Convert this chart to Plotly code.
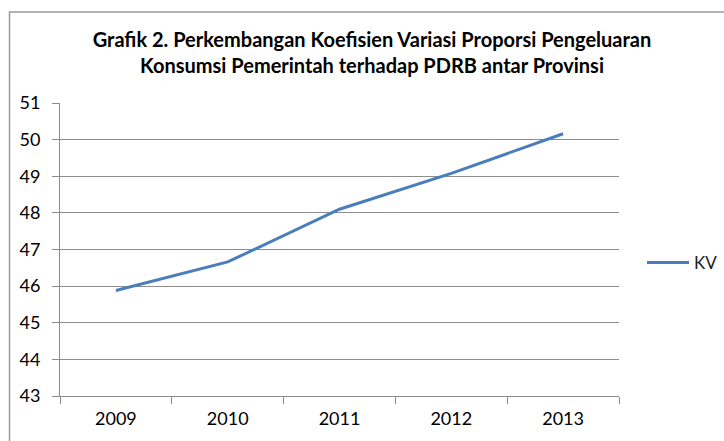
import plotly.graph_objects as go

years = ["2009", "2010", "2011", "2012", "2013"]
kv = [45.88, 46.66, 48.10, 49.08, 50.16]
series_name = "KV"
title_lines = ["Grafik 2. Perkembangan Koefisien Variasi Proporsi Pengeluaran",
               "Konsumsi Pemerintah terhadap PDRB antar Provinsi"]

W, H = 724, 441
L, R, T, B = 60, 105, 103, 45
pw, ph = W - L - R, H - T - B

fig = go.Figure()
fig.add_trace(go.Scatter(
    x=years, y=kv, mode="lines", name=series_name,
    line=dict(color="#4A7EBB", width=3),
))

grid = "#8C8C8C"
fig.update_layout(
    width=W, height=H,
    margin=dict(l=L, r=R, t=T, b=B, autoexpand=False),
    paper_bgcolor="white", plot_bgcolor="white",
    font=dict(family="Lato", size=17, color="#000"),
    title=dict(
        text="<b>" + "<br>".join(title_lines) + "</b>",
        x=372 / W, xanchor="center", xref="container",
        y=1 - 47 / H, yanchor="top",
        font=dict(family="Lato", size=20, color="#000"),
    ),
    showlegend=True,
    legend=dict(
        x=(642 - L) / pw, y=(H - B - 263) / ph, xanchor="left", yanchor="middle",
        bgcolor="rgba(0,0,0,0)", font=dict(size=17, color="#222"),
        itemwidth=42,
    ),
    xaxis=dict(
        type="category", range=[-0.5, 4.5],
        showline=True, linecolor=grid, linewidth=1,
        ticks="outside", tickson="boundaries", ticklen=7, tickcolor=grid,
        showgrid=False, zeroline=False,
        tickfont=dict(size=18, color="#000"),
        ticklabelstandoff=6,
    ),
    yaxis=dict(
        range=[43, 51], dtick=1, tick0=43,
        showline=True, linecolor=grid, linewidth=1,
        ticks="outside", ticklen=7, tickcolor=grid,
        showgrid=True, gridcolor=grid, gridwidth=1, zeroline=False,
        tickfont=dict(size=18, color="#000"),
        ticklabelstandoff=8,
    ),
)

# outer chart-area border (cut off at the right and bottom edges)
fig.add_shape(
    type="rect", xref="paper", yref="paper",
    x0=(9.5 - L) / pw, x1=(W + 10 - L) / pw,
    y0=(H - B - (H + 10)) / ph, y1=(H - B - 12) / ph,
    line=dict(color="#9A9A9A", width=1.5), fillcolor="rgba(0,0,0,0)",
    layer="below",
)

fig.write_html("out.html")
